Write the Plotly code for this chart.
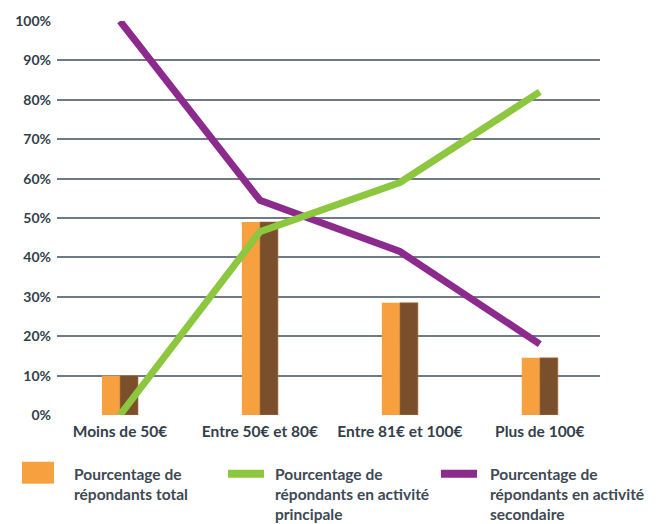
import plotly.graph_objects as go

# Price brackets and survey shares (in %)
categories = ["Moins de 50€", "Entre 50€ et 80€", "Entre 81€ et 100€", "Plus de 100€"]
total_pct = [10, 49, 28.5, 14.5]
principale_pct = [0, 46.5, 59, 82]
secondaire_pct = [100, 54.5, 41.5, 18]
y_ticks = list(range(0, 101, 10))

ORANGE = "#F7A03F"
BROWN = "#7A4F2C"
GREEN = "#8DC63F"
PURPLE = "#8C2A8D"
GRID = "#6E7B86"
TEXT = "#333F4A"
FONT = "Lato"

x_pos = list(range(len(categories)))

fig = go.Figure()

# Pseudo-3D bars: light front face plus darker side face
fig.add_trace(go.Bar(x=x_pos, y=total_pct, width=0.129, offset=-0.129,
                     marker=dict(color=ORANGE, line=dict(width=0)),
                     showlegend=False, hoverinfo="skip"))
fig.add_trace(go.Bar(x=x_pos, y=total_pct, width=0.129, offset=0,
                     marker=dict(color=BROWN, line=dict(color="#B9773A", width=0.6)),
                     showlegend=False, hoverinfo="skip"))

fig.add_trace(go.Scatter(x=x_pos, y=secondaire_pct, mode="lines",
                         line=dict(color=PURPLE, width=7), showlegend=False))
fig.add_trace(go.Scatter(x=x_pos, y=principale_pct, mode="lines",
                         line=dict(color=GREEN, width=7), showlegend=False))

fig.update_layout(
    width=664, height=524,
    margin=dict(l=57, r=64, t=19, b=109),
    plot_bgcolor="white", paper_bgcolor="white",
    barmode="overlay",
    font=dict(family=FONT, color=TEXT, size=14),
    xaxis=dict(
        range=[-0.45, 3.43],
        tickmode="array", tickvals=x_pos, ticktext=categories,
        showgrid=False, zeroline=False, showline=False, ticks="",
        tickfont=dict(family=FONT, size=15.5, color=TEXT, weight=700),
        ticklabelstandoff=5,
    ),
    yaxis=dict(
        range=[0, 100],
        tickmode="array", tickvals=y_ticks,
        ticktext=[f"{v}%" for v in y_ticks],
        showgrid=True, gridcolor=GRID, gridwidth=2,
        zeroline=False, showline=False, ticks="",
        tickfont=dict(family=FONT, size=14, color=TEXT, weight=700),
        ticklabelstandoff=5,
    ),
)

# Legend drawn below the plot area
legend_font = dict(family=FONT, size=15.5, color="#3E4954")
fig.add_shape(type="rect", xref="paper", yref="paper",
              x0=(22 - 57) / 543, x1=(54 - 57) / 543,
              y0=(415 - 484) / 396, y1=(415 - 462) / 396,
              fillcolor=ORANGE, line=dict(width=0))
fig.add_shape(type="line", xref="paper", yref="paper",
              x0=(228 - 57) / 543, x1=(264 - 57) / 543,
              y0=(415 - 474) / 396, y1=(415 - 474) / 396,
              line=dict(color=GREEN, width=8))
fig.add_shape(type="line", xref="paper", yref="paper",
              x0=(441 - 57) / 543, x1=(477 - 57) / 543,
              y0=(415 - 474) / 396, y1=(415 - 474) / 396,
              line=dict(color=PURPLE, width=8))

legend_texts = [
    (72, "<b>Pourcentage de<br>répondants total</b>"),
    (273, "<b>Pourcentage de<br>répondants en activité<br>principale</b>"),
    (488, "<b>Pourcentage de<br>répondants en activité<br>secondaire</b>"),
]
for px, txt in legend_texts:
    fig.add_annotation(xref="paper", yref="paper",
                       x=(px - 57) / 543, y=(415 - 463) / 396,
                       xanchor="left", yanchor="top", align="left",
                       showarrow=False, text=txt, font=legend_font)

fig.write_html("out.html")
